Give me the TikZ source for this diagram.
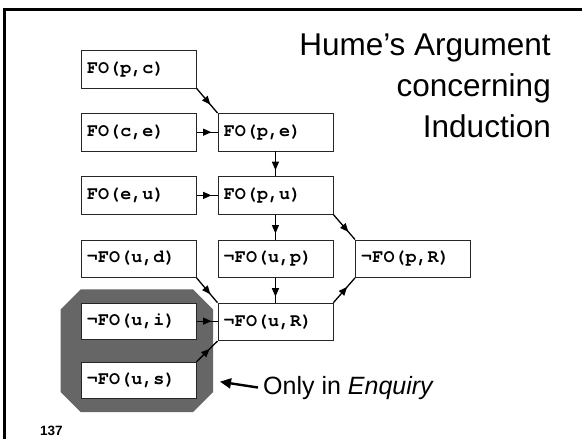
\documentclass[tikz,border=0pt]{standalone}
\usepackage{fontspec}
\setmainfont{Liberation Sans}
\newfontfamily\boxfont{TeX Gyre Cursor}
\usetikzlibrary{arrows.meta,decorations.markings}
\definecolor{octgray}{RGB}{102,102,102}
\begin{document}
\begin{tikzpicture}[x=1pt,y=-1pt,
  fo/.style={draw=black!85, line width=0.9pt, fill=white, anchor=north west,
    minimum height=37.5pt, text width=103pt, inner xsep=6pt, inner ysep=0pt,
    align=left, font=\boxfont\bfseries\fontsize{18.4}{20}\selectfont},
  conn/.style={line width=1.3pt,
    decoration={markings, mark=at position #1 with {\arrow{Triangle[length=8.5pt,width=7pt]}}},
    postaction={decorate}},
  conn/.default=-6pt,
  title/.style={anchor=base east, inner sep=0pt, font=\fontsize{31.5}{37}\selectfont}
]
\useasboundingbox (0,0) rectangle (582,439);
\fill[white] (0,0) rectangle (582,439);
% frame
\draw[line width=2.7pt] (590,9.7) -- (4.7,9.7) -- (4.7,445);
% octagon
\fill[octgray] (60.7,309.3) -- (80.7,289.3) -- (193,289.3) -- (213,309.3)
  -- (213,392) -- (193,412) -- (80.7,412) -- (60.7,392) -- cycle;
% boxes
\node[fo] (pc) at (80.7,50) {FO(p,c)};
\node[fo] (ce) at (80.7,113) {FO(c,e)};
\node[fo] (pe) at (217.5,113) {FO(p,e)};
\node[fo] (eu) at (80.7,176.2) {FO(e,u)};
\node[fo] (pu) at (217.5,176.2) {FO(p,u)};
\node[fo] (ud) at (80.7,239.5) {¬FO(u,d)};
\node[fo] (up) at (217.5,239.5) {¬FO(u,p)};
\node[fo] (pR) at (355,239.5) {¬FO(p,R)};
\node[fo, minimum height=36pt] (ui) at (80.7,302.7) {¬FO(u,i)};
\node[fo] (uR) at (217.5,302.7) {¬FO(u,R)};
\node[fo, minimum height=36pt] (us) at (80.7,361.7) {¬FO(u,s)};
% connectors
\draw[conn=-11pt] (pc.south east) -- (pe.north west);
\draw[conn] (ce.east) -- (ce.east -| pe.west);
\draw[conn] (pe.south) -- (pu.north);
\draw[conn] (eu.east) -- (eu.east -| pu.west);
\draw[conn] (pu.south) -- (up.north);
\draw[conn=-10pt] (pu.south east) -- (pR.north west);
\draw[conn] (up.south) -- (uR.north);
\draw[conn=-11pt] (ud.south east) -- (uR.north west);
\draw[conn] (ui.east) -- (ui.east -| uR.west);
\draw[conn=-11pt] (us.north east) -- (uR.south west);
\draw[conn=-12pt] (uR.north east) -- (pR.south west);
% title
\node[title] (t1) at (551,56) {Hume’s Argument};
\node[title] (t2) at (551,96.7) {concerning};
\node[title] (t3) at (551,137.3) {Induction};
% note
\node[anchor=base west, inner sep=0pt, font=\fontsize{25}{30}\selectfont] (only) at (263,394) {Only in \textit{Enquiry}};
\coordinate (onlytip) at (220,381.7);
\draw[line width=2.4pt, -{Triangle[length=11pt,width=10pt]}] ([xshift=-5pt]only.west) -- (onlytip);
% page number
\node[anchor=base west, inner sep=0pt, font=\bfseries\fontsize{13.5}{16}\selectfont] (pg) at (40,435) {137};
\end{tikzpicture}
\end{document}
